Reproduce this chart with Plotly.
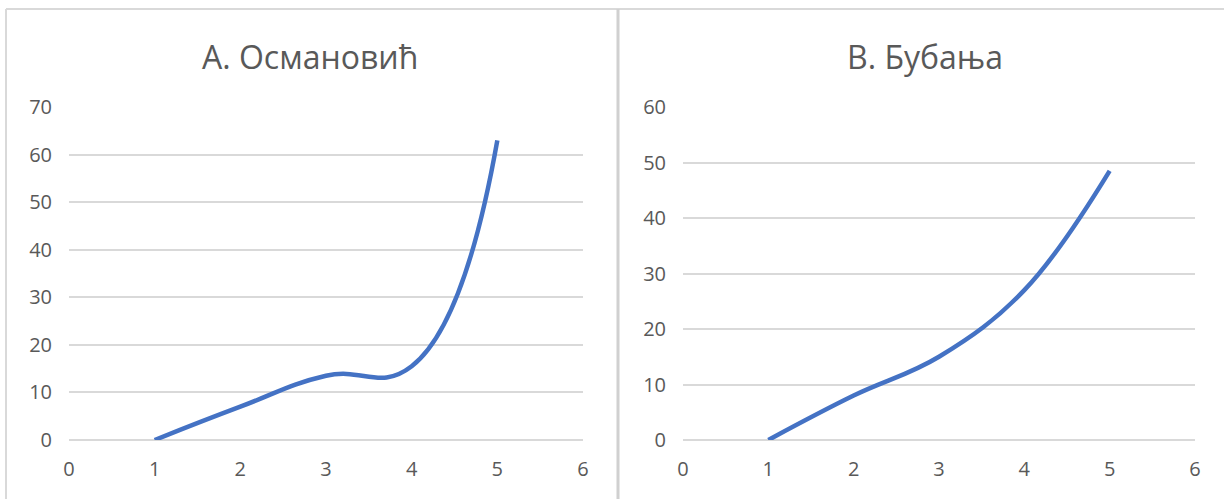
import plotly.graph_objects as go

# Data
x_vals = [1, 2, 3, 4, 5]
osmanovic = [0, 7, 13.5, 15.5, 63]
bubanja = [0, 8, 15, 27, 48.5]
titles = ["А. Османовић", "В. Бубања"]
x_ticks = [0, 1, 2, 3, 4, 5, 6]
y_ticks_left = [0, 10, 20, 30, 40, 50, 60, 70]
y_ticks_right = [0, 10, 20, 30, 40, 50, 60]

W, H = 1224, 499
FONT = "Open Sans"
TXT = "#595959"
GRID = "#d9d9d9"
BLUE = "#4472C4"

def px(x):
    return x / W

def py(y):
    return (H - y) / H

fig = go.Figure()
fig.add_trace(go.Scatter(x=x_vals, y=osmanovic, mode="lines",
                         line=dict(color=BLUE, width=4.5, shape="spline", smoothing=1.3),
                         xaxis="x", yaxis="y", showlegend=False, hoverinfo="skip"))
fig.add_trace(go.Scatter(x=x_vals, y=bubanja, mode="lines",
                         line=dict(color=BLUE, width=4.5, shape="spline", smoothing=1.1),
                         xaxis="x2", yaxis="y2", showlegend=False, hoverinfo="skip"))

ydom = [py(440), py(107)]
common_x = dict(range=[0, 6], tickvals=x_ticks, showgrid=False, zeroline=False,
                showline=False, ticks="", tickfont=dict(family=FONT, size=20, color=TXT),
                ticklabelstandoff=15, fixedrange=True, automargin=False)
common_y = dict(showgrid=True, gridcolor=GRID, gridwidth=1.5, zeroline=True,
                zerolinecolor=GRID, zerolinewidth=1.5, showline=False, ticks="",
                tickfont=dict(family=FONT, size=20, color=TXT),
                ticklabelstandoff=16, fixedrange=True, automargin=False)

fig.update_layout(
    width=W, height=H,
    margin=dict(l=0, r=0, t=0, b=0),
    paper_bgcolor="white", plot_bgcolor="white",
    xaxis=dict(domain=[px(69), px(583)], anchor="y", **common_x),
    yaxis=dict(domain=ydom, anchor="x", range=[0, 70], tickvals=y_ticks_left, **common_y),
    xaxis2=dict(domain=[px(683), px(1195)], anchor="y2", **common_x),
    yaxis2=dict(domain=ydom, anchor="x2", range=[0, 60], tickvals=y_ticks_right, **common_y),
    annotations=[
        dict(text=titles[0], x=px(310), y=py(56), xref="paper", yref="paper",
             showarrow=False, font=dict(family=FONT, size=32, color=TXT),
             xanchor="center", yanchor="middle"),
        dict(text=titles[1], x=px(925), y=py(56), xref="paper", yref="paper",
             showarrow=False, font=dict(family=FONT, size=32, color=TXT),
             xanchor="center", yanchor="middle"),
    ],
    shapes=[
        dict(type="line", xref="paper", yref="paper", x0=px(6), x1=1, y0=py(9), y1=py(9),
             line=dict(color="#d9d9d9", width=2)),
        dict(type="line", xref="paper", yref="paper", x0=px(6), x1=px(6), y0=py(9), y1=0,
             line=dict(color="#d9d9d9", width=2)),
        dict(type="line", xref="paper", yref="paper", x0=px(618), x1=px(618), y0=py(9), y1=0,
             line=dict(color="#d0d0d0", width=3)),
    ],
)

fig.write_html("out.html", config={"displayModeBar": False},
               post_script="document.body.style.margin='0';document.body.style.overflow='hidden';")
